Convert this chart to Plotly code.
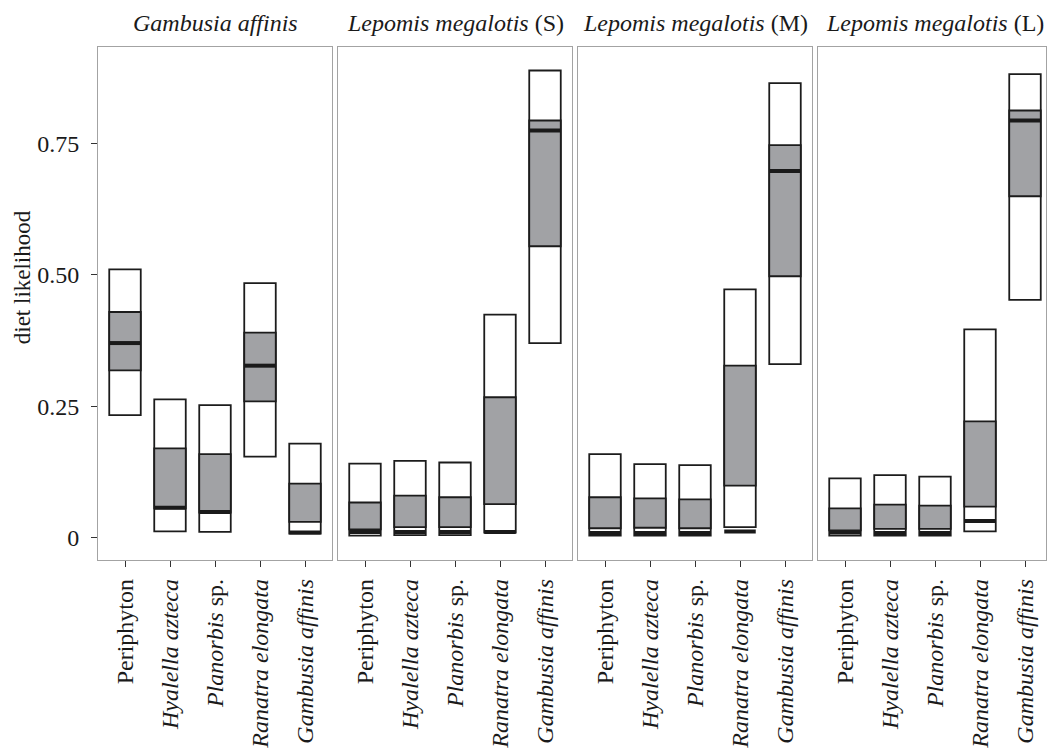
import plotly.graph_objects as go

# Prey sources on the x axis of every panel
categories = ["Periphyton", "Hyalella azteca", "Planorbis sp.", "Ranatra elongata", "Gambusia affinis"]
tick_text = [
    "Periphyton",
    "<i>Hyalella azteca</i>",
    "<i>Planorbis</i> sp.",
    "<i>Ranatra elongata</i>",
    "<i>Gambusia affinis</i>",
]

# Consumers, one facet each
panel_titles = [
    "<i>Gambusia affinis</i>",
    "<i>Lepomis megalotis</i> (S)",
    "<i>Lepomis megalotis</i> (M)",
    "<i>Lepomis megalotis</i> (L)",
]

# Posterior summaries of diet proportion: one row per consumer, one value per prey
lo95 = [
    [0.233, 0.012, 0.011, 0.154, 0.008],
    [0.004, 0.005, 0.005, 0.010, 0.370],
    [0.004, 0.004, 0.004, 0.020, 0.330],
    [0.004, 0.004, 0.004, 0.012, 0.452],
]
lo50 = [
    [0.318, 0.056, 0.048, 0.259, 0.030],
    [0.016, 0.020, 0.020, 0.064, 0.554],
    [0.018, 0.019, 0.018, 0.099, 0.497],
    [0.014, 0.017, 0.017, 0.059, 0.649],
]
median = [
    [0.370, 0.057, 0.049, 0.327, 0.010],
    [0.011, 0.011, 0.011, 0.011, 0.774],
    [0.009, 0.009, 0.009, 0.012, 0.697],
    [0.010, 0.009, 0.009, 0.032, 0.793],
]
hi50 = [
    [0.429, 0.170, 0.159, 0.390, 0.103],
    [0.067, 0.080, 0.077, 0.267, 0.793],
    [0.077, 0.075, 0.073, 0.327, 0.746],
    [0.056, 0.063, 0.061, 0.221, 0.812],
]
hi95 = [
    [0.510, 0.263, 0.252, 0.484, 0.179],
    [0.141, 0.146, 0.143, 0.424, 0.888],
    [0.159, 0.140, 0.138, 0.472, 0.864],
    [0.113, 0.119, 0.116, 0.396, 0.881],
]

y_ticks = [0, 0.25, 0.50, 0.75]
y_tick_text = ["0", "0.25", "0.50", "0.75"]

W, H = 1047, 749
FONT = "Liberation Serif, Times New Roman, serif"
INK = "#1a1a1a"
EDGE = "#1c1c1c"
FILL50 = "#a1a2a5"
FRAME = "#a3a3a3"
BOX_W = 0.7
PX_PER_UNIT = 45.0

# panel frames in pixels (left, right); plot band top/bottom in pixels
panel_px = [(98, 332), (338, 572), (578, 812), (818, 1046)]
top_px, bottom_px = 47.5, 568
y_range = [-0.0431, 0.9329]

fig = go.Figure()
x_pos = list(range(1, len(categories) + 1))

for p in range(4):
    xa = "x" if p == 0 else f"x{p + 1}"
    ya = "y" if p == 0 else f"y{p + 1}"

    fig.add_bar(
        x=x_pos, base=lo95[p], y=[h - l for h, l in zip(hi95[p], lo95[p])],
        width=BOX_W, marker=dict(color="white", line=dict(color=EDGE, width=1.8)),
        xaxis=xa, yaxis=ya, showlegend=False, hoverinfo="skip",
    )
    fig.add_bar(
        x=x_pos, base=lo50[p], y=[h - l for h, l in zip(hi50[p], lo50[p])],
        width=BOX_W, marker=dict(color=FILL50, line=dict(color=EDGE, width=1.8)),
        xaxis=xa, yaxis=ya, showlegend=False, hoverinfo="skip",
    )

    mx, my = [], []
    for xi, m in zip(x_pos, median[p]):
        mx += [xi - BOX_W / 2, xi + BOX_W / 2, None]
        my += [m, m, None]
    fig.add_scatter(
        x=mx, y=my, mode="lines", line=dict(color=INK, width=4),
        xaxis=xa, yaxis=ya, showlegend=False, hoverinfo="skip",
    )

    left, right = panel_px[p]
    x_dom = [left / W, right / W]
    x_rng = [0.4, 0.4 + (right - left) / PX_PER_UNIT]
    y_dom = [(H - bottom_px) / H, (H - top_px) / H]

    fig.layout[("xaxis" if p == 0 else f"xaxis{p + 1}")] = dict(
        domain=x_dom, range=x_rng, anchor=ya,
        tickmode="array", tickvals=x_pos, ticktext=tick_text, tickangle=-90,
        ticks="outside", ticklen=6, tickwidth=1.2, tickcolor="#333333",
        ticklabelstandoff=2,
        tickfont=dict(family=FONT, size=24, color=INK),
        showline=True, mirror=True, linecolor=FRAME, linewidth=1,
        showgrid=False, zeroline=False, fixedrange=True,
    )
    fig.layout[("yaxis" if p == 0 else f"yaxis{p + 1}")] = dict(
        domain=y_dom, range=y_range, anchor=xa,
        tickmode="array", tickvals=y_ticks, ticktext=y_tick_text,
        ticks="outside" if p == 0 else "", ticklen=6, tickwidth=1.2, tickcolor="#333333",
        ticklabelstandoff=7,
        showticklabels=(p == 0),
        tickfont=dict(family=FONT, size=24, color=INK),
        showline=True, mirror=True, linecolor=FRAME, linewidth=1,
        showgrid=False, zeroline=False, fixedrange=True,
    )

    fig.add_annotation(
        x=(left + left + 234) / 2 / W, y=(H - 23) / H, xref="paper", yref="paper",
        text=panel_titles[p], showarrow=False,
        font=dict(family=FONT, size=24, color=INK), xanchor="center", yanchor="middle",
    )

fig.add_annotation(
    x=22 / W, y=(H - 281) / H, xref="paper", yref="paper",
    text="diet likelihood", textangle=-90, showarrow=False,
    font=dict(family=FONT, size=23, color=INK), xanchor="center", yanchor="middle",
)

fig.update_layout(
    width=W, height=H, barmode="overlay",
    margin=dict(l=0, r=0, t=0, b=0),
    paper_bgcolor="white", plot_bgcolor="white",
    font=dict(family=FONT, color=INK),
)

fig.write_html("out.html")
